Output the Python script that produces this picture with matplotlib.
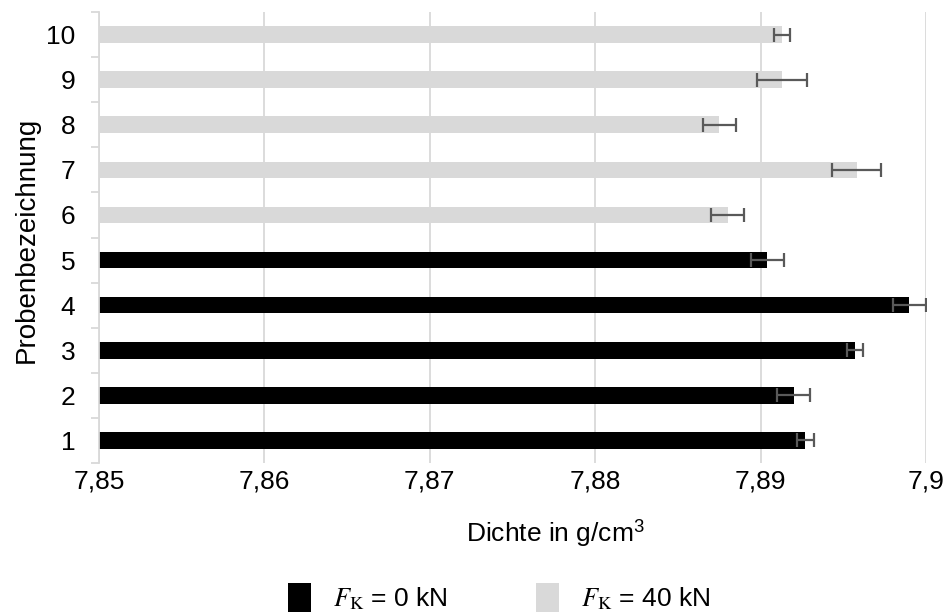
import matplotlib
matplotlib.use("Agg")
import matplotlib.pyplot as plt
from matplotlib.patches import Patch
from matplotlib.ticker import FixedLocator, FuncFormatter

plt.rcParams["font.family"] = ["Liberation Sans", "DejaVu Sans"]
plt.rcParams["mathtext.fontset"] = "stix"

# Probe numbers and measured densities (g/cm^3) with standard deviations
samples = [1, 2, 3, 4, 5, 6, 7, 8, 9, 10]
density = [7.8927, 7.8920, 7.8957, 7.8990, 7.8904, 7.8880, 7.8958, 7.8875, 7.8913, 7.8913]
density_err = [0.0005, 0.0010, 0.0005, 0.0010, 0.0010, 0.0010, 0.0015, 0.0010, 0.0015, 0.0005]
force_group = [0, 0, 0, 0, 0, 40, 40, 40, 40, 40]

x_ticks = [7.85, 7.86, 7.87, 7.88, 7.89, 7.90]
x_min, x_max = 7.85, 7.90

group_colors = {0: "#000000", 40: "#d9d9d9"}
grid_color = "#d9d9d9"
err_color = "#595959"
fs = 19

fig = plt.figure(figsize=(9.46, 6.14), dpi=100)
ax = fig.add_axes([99 / 946, 1 - 463 / 614, (926 - 99) / 946, (463 - 12) / 614])

colors = [group_colors[g] for g in force_group]
ax.barh(samples, [d - x_min for d in density], left=x_min, height=0.37,
        color=colors, zorder=2)
ax.errorbar(density, samples, xerr=density_err, fmt="none", ecolor=err_color,
            elinewidth=1.6, capsize=5, capthick=1.6, zorder=3)

ax.set_xlim(x_min, x_max)
ax.set_ylim(0.5, 10.5)

ax.xaxis.set_major_locator(FixedLocator(x_ticks))
ax.xaxis.set_major_formatter(FuncFormatter(lambda v, p: f"{v:.2f}".rstrip("0").replace(".", ",")))
ax.set_yticks(samples)
ax.set_yticklabels([str(s) for s in samples])
ax.yaxis.set_minor_locator(FixedLocator([s - 0.5 for s in samples] + [10.5]))

ax.grid(axis="x", color=grid_color, linewidth=1.3, zorder=0)
ax.tick_params(axis="x", length=0, labelsize=fs, pad=5)
ax.tick_params(axis="y", which="major", length=0, labelsize=fs, pad=17)
ax.tick_params(axis="y", which="minor", length=6, color=grid_color, width=1.3)

for side in ("top", "right", "bottom"):
    ax.spines[side].set_visible(False)
ax.spines["left"].set_color(grid_color)
ax.spines["left"].set_linewidth(1.3)

fig.text(556 / 946, 1 - 533 / 614, r"Dichte in g/cm$^\mathregular{3}$", fontsize=fs,
         ha="center", va="center")
fig.text(27 / 946, 1 - 240 / 614, "Probenbezeichnung", fontsize=fs + 1,
         ha="center", va="center", rotation=90)

handles = [Patch(facecolor=group_colors[0]), Patch(facecolor=group_colors[40])]
labels = [r"$F_\mathrm{K}$ = 0 kN", r"$F_\mathrm{K}$ = 40 kN"]
fig.legend(handles, labels, loc="lower center", bbox_to_anchor=(0.528, -0.035),
           ncol=2, frameon=False, fontsize=fs, handlelength=0.85, handleheight=1.3,
           columnspacing=3.35, handletextpad=0.85)

fig.savefig("out.png", dpi=100)
